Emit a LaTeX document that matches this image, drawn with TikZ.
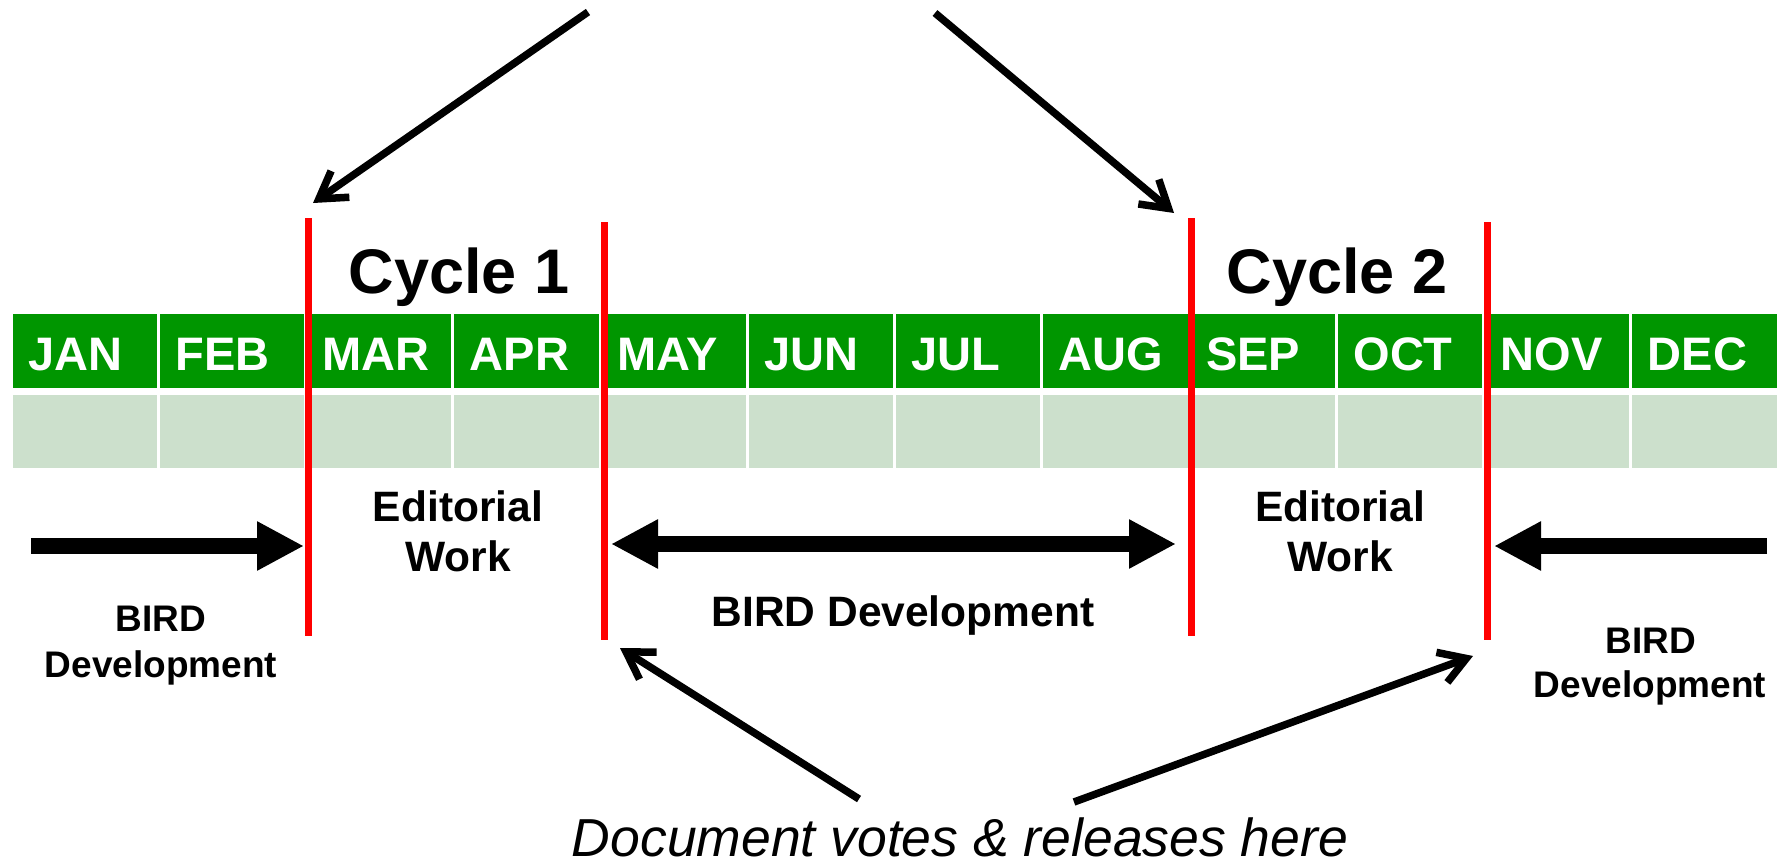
\documentclass[tikz,border=0pt]{standalone}
\usepackage{fontspec}
\setmainfont{Liberation Sans}
\usetikzlibrary{arrows.meta}
\definecolor{mgreen}{RGB}{0,150,0}
\definecolor{lgreen}{RGB}{204,224,204}
\definecolor{vred}{RGB}{255,0,0}
\begin{document}
\begin{tikzpicture}[x=1pt,y=-1pt,
  month/.style={font=\fontsize{47}{47}\selectfont\bfseries, text=white, anchor=base west, inner sep=0pt},
  gcell/.style={fill=mgreen, minimum width=144.25pt, minimum height=74pt, inner sep=0pt},
  lcell/.style={fill=lgreen, minimum width=144.25pt, minimum height=73pt, inner sep=0pt},
  redline/.style={draw=vred, line width=7pt},
  thinarrow/.style={line width=7.5pt, -{Straight Barb[length=26pt,width=32pt]}},
  blockarrow/.style={line width=16pt, -{Triangle[length=47pt,width=46pt]}},
  cyc/.style={font=\fontsize{63}{63}\selectfont\bfseries, anchor=base, inner sep=0pt},
  edit/.style={font=\fontsize{42.5}{42.5}\selectfont\bfseries, anchor=base, inner sep=0pt},
  bird/.style={font=\fontsize{37}{37}\selectfont\bfseries, anchor=base, inner sep=0pt},
  birdmid/.style={font=\fontsize{42.5}{42.5}\selectfont\bfseries, anchor=base, inner sep=0pt},
  doc/.style={font=\fontsize{53.5}{53.5}\selectfont\itshape, anchor=base, inner sep=0pt}
]
\useasboundingbox (0,0) rectangle (1788,864);
% table
\foreach \m [count=\i from 0] in {JAN,FEB,MAR,APR,MAY,JUN,JUL,AUG,SEP,OCT,NOV,DEC} {
  \pgfmathsetmacro\cx{11+147.25*(\i+0.5)}
  \pgfmathsetmacro\lx{11+147.25*\i+17}
  \node[gcell] (g\i) at (\cx,351) {};
  \node[lcell] (l\i) at (\cx,431.5) {};
  \node[month] (t\i) at (\lx,370) {\m};
}
% red lines
\coordinate (r1t) at (308,218); \coordinate (r1b) at (308,636);
\coordinate (r2t) at (604,222); \coordinate (r2b) at (604,640);
\coordinate (r3t) at (1191,218); \coordinate (r3b) at (1191,636);
\coordinate (r4t) at (1487,222); \coordinate (r4b) at (1487,640);
\draw[redline] (r1t) -- (r1b);
\draw[redline] (r2t) -- (r2b);
\draw[redline] (r3t) -- (r3b);
\draw[redline] (r4t) -- (r4b);
% titles
\node[cyc] (c1) at (459,293) {Cycle 1};
\node[cyc] (c2) at (1337,293) {Cycle 2};
% editorial work
\node[edit] (e1a) at (458,521) {Editorial};
\node[edit] (e1b) at (458,571) {Work};
\node[edit] (e2a) at (1340,521) {Editorial};
\node[edit] (e2b) at (1340,571) {Work};
% BIRD development
\node[bird] (b1a) at (161,631) {BIRD};
\node[bird] (b1b) at (161,677) {Development};
\node[birdmid] (bm) at (903,626) {BIRD Development};
\node[bird] (b3a) at (1651,653) {BIRD};
\node[bird] (b3b) at (1650,697) {Development};
% document votes
\node[doc] (dv) at (960,856) {Document votes \& releases here};
% block arrows
\coordinate (la0) at (31,546); \coordinate (la1) at (304,546);
\coordinate (ma0) at (611,544); \coordinate (ma1) at (1176,544);
\coordinate (ra0) at (1767,546); \coordinate (ra1) at (1494,546);
\draw[blockarrow] (la0) -- (la1);
\draw[blockarrow, {Triangle[length=47pt,width=46pt]}-{Triangle[length=47pt,width=46pt]}] (ma0) -- (ma1);
\draw[blockarrow] (ra0) -- (ra1);
% thin arrows
\coordinate (ta0) at (588,12); \coordinate (ta1) at (313,203);
\coordinate (tb0) at (935,13); \coordinate (tb1) at (1174,213);
\coordinate (bl0) at (859,799); \coordinate (bl1) at (620,648);
\coordinate (br0) at (1074,802); \coordinate (br1) at (1473,656);
\draw[thinarrow] (ta0) -- (ta1);
\draw[thinarrow] (tb0) -- (tb1);
\draw[thinarrow] (bl0) -- (bl1);
\draw[thinarrow] (br0) -- (br1);
\end{tikzpicture}
\end{document}
